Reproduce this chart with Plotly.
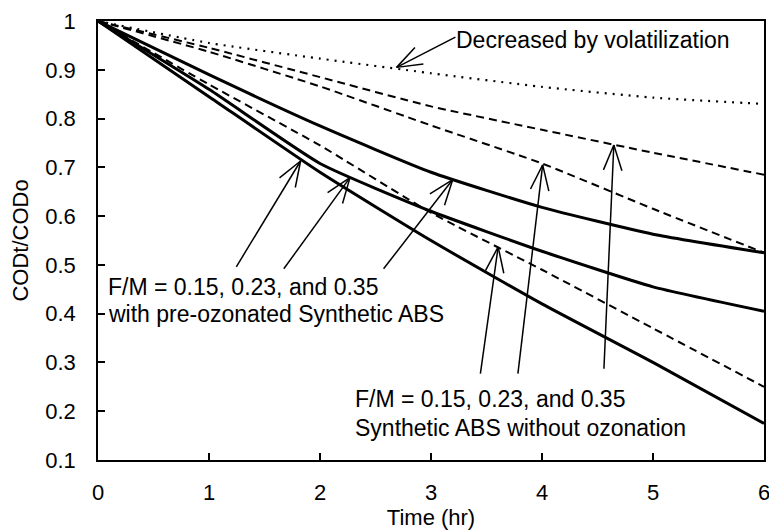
import numpy as np
import plotly.graph_objects as go

# ---- data ----
time_hr = [0, 1, 2, 3, 4, 5, 6]
volatilization = [1.0, 0.955, 0.923, 0.893, 0.865, 0.843, 0.830]
raw_fm035 = [1.0, 0.945, 0.885, 0.825, 0.777, 0.730, 0.685]
raw_fm023 = [1.0, 0.937, 0.866, 0.786, 0.708, 0.615, 0.525]
raw_fm015 = [1.0, 0.870, 0.745, 0.607, 0.490, 0.370, 0.250]
pre_fm035 = [1.0, 0.890, 0.785, 0.690, 0.618, 0.563, 0.525]
pre_fm023 = [1.0, 0.860, 0.708, 0.610, 0.528, 0.455, 0.405]
pre_fm015 = [1.0, 0.845, 0.690, 0.550, 0.420, 0.300, 0.175]

x_ticks = [0, 1, 2, 3, 4, 5, 6]
y_ticks = [0.1, 0.2, 0.3, 0.4, 0.5, 0.6, 0.7, 0.8, 0.9, 1.0]
y_tick_text = ["0.1", "0.2", "0.3", "0.4", "0.5", "0.6", "0.7", "0.8", "0.9", "1"]

# annotation arrows: (tail, tip) in data units
vol_arrow = [((3.22, 0.967), (2.69, 0.905))]
pre_arrows = [((1.246, 0.496), (1.825, 0.713)),
              ((1.674, 0.492), (2.270, 0.679)),
              ((2.573, 0.492), (3.196, 0.675))]
raw_arrows = [((3.445, 0.277), (3.605, 0.537)),
              ((3.783, 0.277), (4.006, 0.705)),
              ((4.558, 0.287), (4.647, 0.746))]

texts = [
    (3.21, 0.961, "Decreased by volatilization"),
    (0.075, 0.455, "F/M = 0.15, 0.23, and 0.35"),
    (0.075, 0.400, "with pre-ozonated Synthetic ABS"),
    (2.30, 0.224, "F/M = 0.15, 0.23, and 0.35"),
    (2.30, 0.165, "Synthetic ABS without ozonation"),
]

# ---- layout geometry (page body has an 8px margin) ----
W, H = 769, 524
ML, MR, MT, MB = 90, 13, 13, 72
XR = [0, 6]
YR = [0.0999, 1.0001]
PX_X = (W - ML - MR) / (XR[1] - XR[0])
PX_Y = (H - MT - MB) / (YR[1] - YR[0])

FONT = "Liberation Sans, Arial, sans-serif"

fig = go.Figure()

def add_line(y, dash, width):
    fig.add_trace(go.Scatter(x=time_hr, y=y, mode="lines",
                             line=dict(color="black", width=width, dash=dash,
                                       shape="spline", smoothing=0.5),
                             hoverinfo="skip"))

add_line(volatilization, "2px,6px", 2.2)
add_line(raw_fm035, "8px,5px", 2)
add_line(raw_fm023, "8px,5px", 2)
add_line(raw_fm015, "8px,5px", 2)
add_line(pre_fm035, "solid", 3)
add_line(pre_fm023, "solid", 3)
add_line(pre_fm015, "solid", 3)


def arrow_path(tail, tip, barb=27.0, half=np.radians(20)):
    dx = (tail[0] - tip[0]) * PX_X
    dy = (tail[1] - tip[1]) * PX_Y
    ang = np.arctan2(dy, dx)
    xs = [tail[0], tip[0], None]
    ys = [tail[1], tip[1], None]
    for s in (1, -1):
        a = ang + s * half
        xs += [tip[0], tip[0] + barb * np.cos(a) / PX_X, None]
        ys += [tip[1], tip[1] + barb * np.sin(a) / PX_Y, None]
    return xs, ys

ax_all, ay_all = [], []
for tail, tip in vol_arrow + pre_arrows + raw_arrows:
    xs, ys = arrow_path(tail, tip)
    ax_all += xs
    ay_all += ys
fig.add_trace(go.Scatter(x=ax_all, y=ay_all, mode="lines",
                         line=dict(color="black", width=1.5),
                         hoverinfo="skip"))

for tx, ty, t in texts:
    fig.add_annotation(x=tx, y=ty, xref="x", yref="y", text=t, showarrow=False,
                       xanchor="left", yanchor="middle", align="left",
                       font=dict(family=FONT, size=23, color="black"))

axis_common = dict(showline=True, linecolor="black", linewidth=1.5, mirror=True,
                   showgrid=False, zeroline=False, ticks="inside", ticklen=7,
                   tickcolor="black", tickwidth=1.5, ticklabeloverflow="allow",
                   automargin=False,
                   tickfont=dict(family=FONT, size=22, color="black"))

fig.update_layout(
    width=W, height=H,
    margin=dict(l=ML, r=MR, t=MT, b=MB, autoexpand=False),
    plot_bgcolor="white", paper_bgcolor="white",
    showlegend=False,
    font=dict(family=FONT, size=22, color="black"),
    xaxis=dict(range=XR, tickvals=x_ticks, ticklabelstandoff=12,
               title=dict(text="Time (hr)", standoff=2,
                          font=dict(family=FONT, size=22, color="black")),
               **axis_common),
    yaxis=dict(range=YR, tickvals=y_ticks, ticktext=y_tick_text, ticklabelstandoff=16,
               title=dict(text="CODt/CODo", standoff=15,
                          font=dict(family=FONT, size=22, color="black")),
               **axis_common),
)

fig.write_html("out.html")
